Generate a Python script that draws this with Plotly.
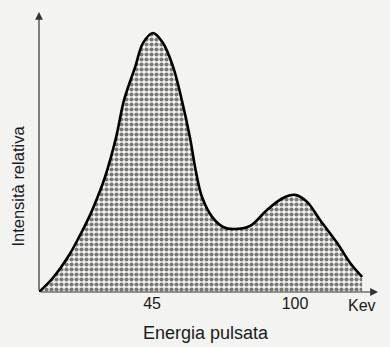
import plotly.graph_objects as go

# Energy (keV) and relative intensity
energy = [1.5, 6.8, 13.1, 16.9, 20.8, 24.2, 26.9, 31.2, 34.2, 38.5, 41.5, 45.4,
          49.2, 53.1, 56.5, 59.6, 61.9, 64.2, 68.1, 72.3, 76.2, 82.7, 89.2, 95.4,
          100.0, 104.6, 109.6, 116.2, 121.2, 125.8]
intensity = [0.0, 5.4, 14.3, 21.2, 29.0, 37.1, 44.4, 59.9, 74.1, 86.9, 96.1, 100.0,
             96.1, 86.9, 73.8, 59.5, 46.3, 36.7, 29.0, 25.1, 24.3, 25.5, 31.7, 36.3,
             37.5, 34.8, 27.8, 18.9, 11.2, 5.8]

tick_vals = [45, 100]
tick_text = ["45", "100"]
unit_label = "Kev"
x_title = "Energia pulsata"
y_title = "Intensità relativa"

x_range = [1.5, 131.9]
y_range = [0, 108.1]

bg = "#f3f3f1"
ink = "#1a1a1a"
font_family = "Liberation Sans, Arial, sans-serif"

fig = go.Figure()

# stippled area under the outline curve
fig.add_trace(go.Scatter(
    x=energy, y=intensity,
    mode="lines",
    line=dict(color="#000000", width=2.6, shape="spline", smoothing=1.0),
    fill="tozeroy",
    fillcolor=bg,
    fillpattern=dict(shape=".", fgcolor="#000000", bgcolor=bg, size=5, solidity=0.55),
    showlegend=False,
))

# axes drawn as arrows
fig.add_annotation(x=x_range[1], y=0, ax=x_range[0], ay=0,
                   xref="x", yref="y", axref="x", ayref="y",
                   showarrow=True, arrowhead=2, arrowsize=1.3, arrowwidth=1.2,
                   arrowcolor="#333333", text="")
fig.add_annotation(x=x_range[0], y=y_range[1], ax=x_range[0], ay=0,
                   xref="x", yref="y", axref="x", ayref="y",
                   showarrow=True, arrowhead=2, arrowsize=1.3, arrowwidth=1.2,
                   arrowcolor="#333333", text="")

# unit label
fig.add_annotation(x=125.8, y=0, xref="x", yref="y", yshift=-13,
                   text=unit_label, showarrow=False,
                   font=dict(family=font_family, size=16, color=ink))

# axis titles
fig.add_annotation(x=0.493, y=-0.148, xref="paper", yref="paper",
                   text=x_title, showarrow=False, xanchor="center", yanchor="middle",
                   font=dict(family=font_family, size=18, color=ink))
fig.add_annotation(x=-0.062, y=0.38, xref="paper", yref="paper",
                   text=y_title, showarrow=False, textangle=-90,
                   xanchor="center", yanchor="middle",
                   font=dict(family=font_family, size=16.5, color=ink))

fig.update_layout(
    width=390, height=347,
    margin=dict(l=39, r=12, t=12, b=55),
    paper_bgcolor=bg, plot_bgcolor=bg,
    font=dict(family=font_family, color=ink),
    xaxis=dict(range=x_range, tickvals=tick_vals, ticktext=tick_text,
               showgrid=False, zeroline=False, showline=False, ticks="",
               tickfont=dict(size=16, color=ink)),
    yaxis=dict(range=y_range, showticklabels=False, showgrid=False, zeroline=False,
               showline=False, ticks=""),
)

fig.write_html("out.html")
